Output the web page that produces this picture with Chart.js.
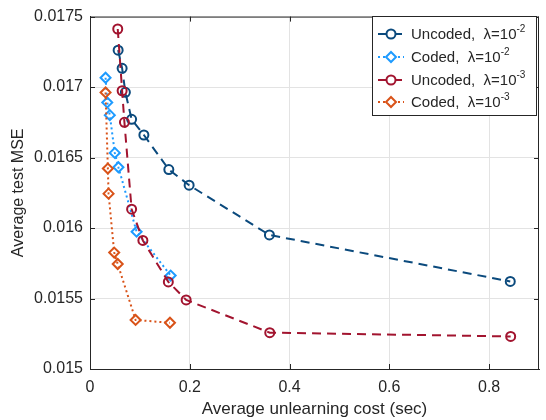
<!DOCTYPE html>
<html>
<head>
<meta charset="utf-8">
<script src="https://cdn.jsdelivr.net/npm/chart.js@4"></script>
<style>
  html, body { margin: 0; padding: 0; background: #fff; }
  canvas { display: block; }
</style>
</head>
<body>
<canvas id="mseChart" width="546" height="420"></canvas>
<script>
/* ==========================================
DATA
========================================== */

const xTicks = [0, 0.2, 0.4, 0.6, 0.8];
const yTicks = [0.015, 0.0155, 0.016, 0.0165, 0.017, 0.0175];

const uncoded2X = [0.0564, 0.0644, 0.0709, 0.0834, 0.108, 0.158, 0.1987, 0.3596, 0.8424];
const uncoded2Y = [0.017262, 0.017133, 0.016963, 0.016771, 0.01666, 0.016415, 0.016304, 0.015951, 0.015621];

const coded2X = [0.0312, 0.0346, 0.0397, 0.0497, 0.057, 0.0934, 0.1617];
const coded2Y = [0.017066, 0.016891, 0.016801, 0.016533, 0.016431, 0.015974, 0.015663];

const uncoded3X = [0.0556, 0.0644, 0.069, 0.0834, 0.106, 0.157, 0.1927, 0.3603, 0.8432];
const uncoded3Y = [0.017412, 0.016974, 0.01675, 0.016134, 0.015912, 0.015618, 0.01549, 0.015258, 0.015231];

const coded3X = [0.0312, 0.0358, 0.0372, 0.0485, 0.0556, 0.0914, 0.1603];
const coded3Y = [0.016962, 0.016422, 0.016244, 0.015826, 0.015745, 0.015348, 0.015328];

const seriesNames = ["Uncoded,", "Coded,", "Uncoded,", "Coded,"];
const lambdaExp = ["-2", "-2", "-3", "-3"];

function toPoints(xs, ys) {
  return xs.map((x, i) => ({ x: x, y: ys[i] }));
}

const FONT = "'Liberation Sans', Arial, sans-serif";
const AXIS = "#262626";

/* ==========================================
INWARD TICKS, BOX AND LEGEND
========================================== */

const boxPlugin = {
  id: "boxPlugin",
  afterDraw(chart) {
    const ctx = chart.ctx;
    const a = chart.chartArea;
    const xs = chart.scales.x, ys = chart.scales.y;
    ctx.save();
    ctx.strokeStyle = AXIS;
    ctx.lineWidth = 1;
    ctx.beginPath();
    ctx.moveTo(a.left, a.top + 0.5); ctx.lineTo(a.right, a.top + 0.5);
    ctx.moveTo(a.right - 0.5, a.top); ctx.lineTo(a.right - 0.5, a.bottom);
    xTicks.forEach(v => {
      const px = Math.round(xs.getPixelForValue(v)) + 0.5;
      ctx.moveTo(px, a.bottom); ctx.lineTo(px, a.bottom - 5);
      ctx.moveTo(px, a.top); ctx.lineTo(px, a.top + 5);
    });
    yTicks.forEach(v => {
      const py = Math.round(ys.getPixelForValue(v)) + 0.5;
      ctx.moveTo(a.left, py); ctx.lineTo(a.left + 5, py);
      ctx.moveTo(a.right, py); ctx.lineTo(a.right - 5, py);
    });
    ctx.stroke();

    // legend box
    const bx = 372, by = 16, bw = 164, bh = 99;
    ctx.fillStyle = "#fff";
    ctx.fillRect(bx, by, bw, bh);
    ctx.strokeStyle = AXIS;
    ctx.strokeRect(bx + 0.5, by + 0.5, bw, bh);

    const rows = [34, 57, 80, 102];
    chart.data.datasets.forEach((ds, i) => {
      const y = rows[i];
      ctx.strokeStyle = ds.borderColor;
      ctx.lineWidth = 2;
      ctx.setLineDash(ds.borderDash);
      ctx.beginPath();
      ctx.moveTo(378, y); ctx.lineTo(404, y);
      ctx.stroke();
      ctx.setLineDash([]);
      ctx.fillStyle = "#fff";
      ctx.beginPath();
      const r = ds.pointRadius;
      if (ds.pointStyle === "circle") {
        ctx.arc(391, y, r, 0, Math.PI * 2);
      } else {
        ctx.moveTo(391, y - r); ctx.lineTo(391 + r, y);
        ctx.lineTo(391, y + r); ctx.lineTo(391 - r, y);
        ctx.closePath();
      }
      ctx.fill();
      ctx.stroke();

      ctx.fillStyle = AXIS;
      ctx.textBaseline = "middle";
      ctx.textAlign = "left";
      ctx.font = "15px " + FONT;
      const name = seriesNames[i] + "  ";
      ctx.fillText(name, 411, y + 1);
      const lx = 411 + ctx.measureText(name).width;
      ctx.fillText("\u03bb=10", lx, y + 1);
      const w = ctx.measureText("\u03bb=10").width;
      ctx.font = "10px " + FONT;
      ctx.fillText(lambdaExp[i], lx + w, y - 5);
    });
    ctx.restore();
  }
};

/* ==========================================
CHART
========================================== */

new Chart(
document.getElementById("mseChart"),
{
type: "line",

data: {
datasets: [
{
label: "Uncoded, lambda=10^-2",
data: toPoints(uncoded2X, uncoded2Y),
borderColor: "#0b4a7d",
borderDash: [9, 6],
pointStyle: "circle",
pointRadius: 4.5,
order: 4
},
{
label: "Coded, lambda=10^-2",
data: toPoints(coded2X, coded2Y),
borderColor: "#1e9bff",
borderDash: [2, 3],
pointStyle: "rectRot",
pointRadius: 5,
order: 3
},
{
label: "Uncoded, lambda=10^-3",
data: toPoints(uncoded3X, uncoded3Y),
borderColor: "#a2142f",
borderDash: [9, 6],
pointStyle: "circle",
pointRadius: 4.5,
order: 2
},
{
label: "Coded, lambda=10^-3",
data: toPoints(coded3X, coded3Y),
borderColor: "#d95319",
borderDash: [2, 3],
pointStyle: "rectRot",
pointRadius: 5,
order: 1
}
].map(ds => Object.assign(ds, {
  borderWidth: 2,
  pointBorderColor: ds.borderColor,
  pointBackgroundColor: "rgba(0,0,0,0)",
  pointBorderWidth: 2,
  tension: 0,
  fill: false
}))
},

options: {
responsive: false,
animation: false,
layout: {
padding: { top: 8, right: 3, left: 0, bottom: 0 }
},

plugins: {
legend: { display: false },
tooltip: { enabled: false }
},

scales: {
x: {
type: "linear",
min: 0,
max: 0.9,
afterBuildTicks: s => { s.ticks = xTicks.map(v => ({ value: v })); },
afterFit: s => { s.height = 51; },
ticks: {
color: AXIS,
font: { family: FONT, size: 16 },
padding: 9,
callback: v => String(v)
},
grid: { color: "#e3e3e3", drawTicks: false },
border: { color: AXIS, width: 1 },
title: {
display: true,
text: "Average unlearning cost (sec)",
color: AXIS,
font: { family: FONT, size: 17 },
padding: { top: 8, bottom: 0 }
}
},
y: {
type: "linear",
min: 0.015,
max: 0.0175,
afterBuildTicks: s => { s.ticks = yTicks.map(v => ({ value: v })); },
afterFit: s => { s.width = 90; },
ticks: {
color: AXIS,
font: { family: FONT, size: 16 },
padding: 7,
callback: v => String(Number(v.toFixed(4)))
},
grid: { color: "#e3e3e3", drawTicks: false },
border: { color: AXIS, width: 1 },
title: {
display: true,
text: "Average test MSE",
color: AXIS,
font: { family: FONT, size: 16 },
padding: { top: 9, bottom: 0 }
}
}
}
},

plugins: [boxPlugin]
}
);
</script>
</body>
</html>
